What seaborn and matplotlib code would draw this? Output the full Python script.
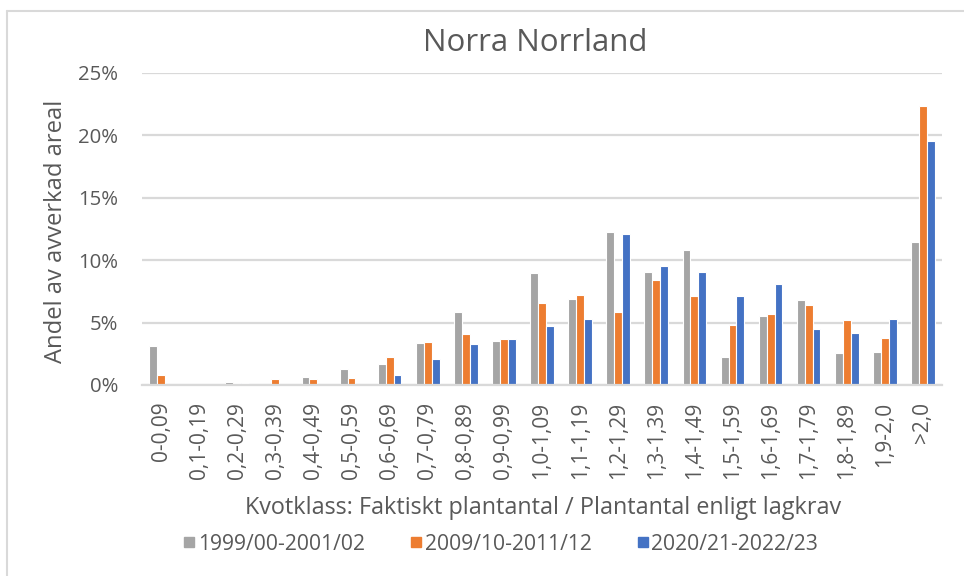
import matplotlib
matplotlib.use("Agg")
import matplotlib.pyplot as plt
from matplotlib.lines import Line2D
from matplotlib.ticker import FuncFormatter, MultipleLocator
import seaborn as sns
import pandas as pd

categories = ["0-0,09", "0,1-0,19", "0,2-0,29", "0,3-0,39", "0,4-0,49", "0,5-0,59",
              "0,6-0,69", "0,7-0,79", "0,8-0,89", "0,9-0,99", "1,0-1,09", "1,1-1,19",
              "1,2-1,29", "1,3-1,39", "1,4-1,49", "1,5-1,59", "1,6-1,69", "1,7-1,79",
              "1,8-1,89", "1,9-2,0", ">2,0"]
series_names = ["1999/00-2001/02", "2009/10-2011/12", "2020/21-2022/23"]
vals_1999 = [3.15, 0.0, 0.27, 0.0, 0.67, 1.28, 1.71, 3.33, 5.84, 3.54, 8.95, 6.90,
             12.25, 9.09, 10.82, 2.22, 5.50, 6.84, 2.54, 2.62, 11.46]
vals_2009 = [0.78, 0.0, 0.13, 0.45, 0.45, 0.59, 2.22, 3.43, 4.06, 3.68, 6.57, 7.19,
             5.84, 8.44, 7.16, 4.78, 5.72, 6.41, 5.21, 3.77, 22.36]
vals_2020 = [0.0, 0.0, 0.13, 0.0, 0.0, 0.0, 0.78, 2.10, 3.25, 3.68, 4.70, 5.32,
             12.09, 9.50, 9.08, 7.16, 8.07, 4.49, 4.17, 5.31, 19.58]
colors = ["#A5A5A5", "#ED7D31", "#4472C4"]

title = "Norra Norrland"
ylabel = "Andel av avverkad areal"
xlabel = "Kvotklass: Faktiskt plantantal / Plantantal enligt lagkrav"

df = pd.DataFrame({
    "Kvotklass": categories * 3,
    "Andel": vals_1999 + vals_2009 + vals_2020,
    "Period": [series_names[0]] * len(categories) + [series_names[1]] * len(categories)
              + [series_names[2]] * len(categories),
})

sns.set_theme(style="white")
plt.rcParams["font.family"] = ["Open Sans", "DejaVu Sans"]
txt = "#595959"

fig = plt.figure(figsize=(9.64, 5.76), dpi=100)
ax = fig.add_axes([142 / 964, 1 - 385 / 576, 800 / 964, 312 / 576])
renderer = fig.canvas.get_renderer()


def fit(t, target, dim="w"):
    for _ in range(3):
        bb = t.get_window_extent(renderer)
        cur = bb.width if dim == "w" else bb.height
        t.set_fontsize(t.get_fontsize() * target / cur)
    return t.get_fontsize()


sns.barplot(data=df, x="Kvotklass", y="Andel", hue="Period", hue_order=series_names,
            palette=colors, width=0.62, edgecolor="white", linewidth=0.8,
            saturation=1, ax=ax, legend=False)

ax.set_ylim(0, 25)
ax.yaxis.set_major_locator(MultipleLocator(5))
ax.yaxis.set_major_formatter(FuncFormatter(lambda v, p: f"{v:.0f}%"))
ax.grid(axis="y", color="#D9D9D9", linewidth=1.6)
ax.set_axisbelow(True)
for s in ["top", "right", "left"]:
    ax.spines[s].set_visible(False)
ax.spines["bottom"].set_color("#D9D9D9")
ax.spines["bottom"].set_linewidth(1.6)
ax.set_xlim(-0.5, len(categories) - 0.5)
ax.set_xlabel("")
ax.set_ylabel("")

# font sizes fitted to the reference text extents
probe = fig.text(0, 0, "0-0,09", fontsize=12)
tick_fs = fit(probe, 60, "w")
probe.set_text("25%")
ytick_fs = fit(probe, 40, "w")
probe.set_text(series_names[0])
leg_fs = fit(probe, 168, "w")
probe.remove()

ax.tick_params(axis="x", length=0, colors=txt, labelsize=tick_fs, pad=12)
ax.tick_params(axis="y", length=0, colors=txt, labelsize=ytick_fs, pad=17)
for lab in ax.get_xticklabels():
    lab.set_rotation(90)

t_title = fig.text(535 / 964, 1 - 43 / 576, title, ha="center", va="center",
                   fontsize=18, color=txt)
fit(t_title, 226, "w")
t_y = fig.text(56 / 964, 1 - 231 / 576, ylabel, ha="center", va="center",
               rotation=90, fontsize=14, color=txt)
fit(t_y, 262, "h")
t_x = fig.text(543 / 964, 1 - 508 / 576, xlabel, ha="center", va="center",
               fontsize=14, color=txt)
fit(t_x, 597, "w")

fs_px = leg_fs * 100 / 72
handles = [Line2D([0], [0], marker="s", linestyle="none", markersize=7.6,
                  markerfacecolor=c, markeredgecolor=c) for c in colors]
fig.legend(handles, series_names, loc="center", bbox_to_anchor=(501 / 964, 1 - 544 / 576),
           ncol=3, frameon=False, fontsize=leg_fs, labelcolor=txt,
           handlelength=11 / fs_px, handletextpad=3 / fs_px, columnspacing=46 / fs_px,
           borderpad=0, borderaxespad=0)

# outer chart border
fig.add_artist(Line2D([7 / 964, 7 / 964], [0, 1 - 11 / 576], transform=fig.transFigure,
                      color="#D9D9D9", linewidth=1.5))
fig.add_artist(Line2D([7 / 964, 1], [1 - 11 / 576, 1 - 11 / 576], transform=fig.transFigure,
                      color="#D9D9D9", linewidth=1.5))

fig.savefig("out.png", dpi=100)
